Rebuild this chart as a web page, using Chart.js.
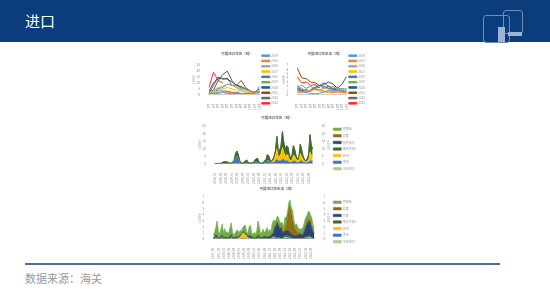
<!DOCTYPE html>
<html>
<head>
<meta charset="utf-8">
<script src="https://cdn.jsdelivr.net/npm/chart.js@4.4.1/dist/chart.umd.min.js"></script>
<style>
body { margin:0; width:550px; height:295px; background:#fff; position:relative; overflow:hidden; font-family:"Noto Sans CJK SC", sans-serif; }
.header { position:absolute; left:0; top:0; width:550px; height:42px; background:#0b3c7c; }
.header h1 { position:absolute; left:25px; top:10px; margin:0; font-size:15px; font-weight:normal; color:#fff; }
.logo1 { position:absolute; left:483px; top:15px; width:25px; height:26px; border:1px solid #6f8dba; border-radius:3px; }
.logo2 { position:absolute; left:503px; top:10px; width:18px; height:22px; border:1px solid #6f8dba; border-radius:3px; }
.logo3 { position:absolute; left:498px; top:27px; width:7px; height:15px; background:#9cb2d6; }
.logo4 { position:absolute; left:508px; top:32px; width:14px; height:4px; background:#9cb2d6; }
.box { position:absolute; }
.rule { position:absolute; left:25px; top:263px; width:475px; height:2px; background:#4a6e9e; }
.src { position:absolute; left:25px; top:270px; font-size:11px; color:#9a9a9a; }
</style>
</head>
<body>
<div class="header"><h1>进口</h1>
  <div class="logo1"></div><div class="logo2"></div><div class="logo3"></div><div class="logo4"></div>
</div>
<div class="box" style="left:190px;top:48px;width:92px;height:64px"><canvas id="nutChart"></canvas></div>
<div class="box" style="left:280px;top:48px;width:88px;height:64px"><canvas id="oilChart"></canvas></div>
<div class="box" style="left:196px;top:113px;width:160px;height:72px"><canvas id="originChart"></canvas></div>
<div class="box" style="left:196px;top:184px;width:160px;height:76px"><canvas id="oilOriginChart"></canvas></div>
<div class="rule"></div>
<div class="src">数据来源：海关</div>

<script>
// months and years
const months = ['1月','2月','3月','4月','5月','6月','7月','8月','9月','10月','11月','12月'];
const years = ['2014','2015','2016','2017','2018','2019','2020','2021','2022','2023'];
const yearColors = ['#5b9bd5','#ed7d31','#a5a5a5','#ffc000','#4472c4','#70ad47','#255e91','#9e480e','#636363','#ff2b2b'];

// peanut imports by year (x1000 t)
const nut2014 = [1,1,2,2,1,1,1,1,1,1,1,7];
const nut2015 = [1,1,1,2,2,2,1,1,1,1,2,3];
const nut2016 = [2,3,6,7,9,8,7,5,4,3,2,2];
const nut2017 = [1,2,3,5,6,5,4,3,2,2,1,1];
const nut2018 = [1,2,4,3,3,2,2,1,1,1,1,3];
const nut2019 = [2,4,5,6,9,8,6,4,2,2,1,2];
const nut2020 = [3,10,14,14,13,11,8,7,5,3,2,5];
const nut2021 = [2,4,12,17,20,12,8,12,6,3,2,3];
const nut2022 = [1,8,15,13,14,8,8,6,4,3,2,2];
const nut2023 = [6,19,12,10,null,null,null,null,null,null,null,null];

// peanut oil imports by year (x1000 t)
const oil2014 = [1.2,0.8,0.5,0.3,0.2,0.4,0.6,1.0,0.8,1.2,0.9,0.7];
const oil2015 = [0.5,0.6,0.8,1.0,1.3,1.2,0.9,0.7,0.5,0.6,0.5,0.4];
const oil2016 = [2.2,1.5,1.0,0.8,1.5,2.0,1.8,1.2,1.0,0.8,1.5,1.2];
const oil2017 = [0.8,0.6,0.7,1.0,1.2,0.9,0.6,0.5,0.7,0.8,0.6,0.5];
const oil2018 = [1.0,0.8,0.5,1.2,1.8,2.2,2.0,1.5,1.2,1.8,1.0,0.6];
const oil2019 = [1.8,2.2,1.5,2.0,1.2,1.0,1.8,1.5,2.0,1.2,1.0,1.5];
const oil2020 = [1.5,1.0,1.2,0.8,1.5,1.8,2.5,3.0,2.5,1.5,2.5,4.3];
const oil2021 = [6.3,4.0,3.8,3.0,2.8,2.2,1.5,2.0,1.2,1.0,0.8,0.5];
const oil2022 = [1.8,1.2,0.6,1.0,1.6,2.2,2.8,2.0,1.5,1.0,1.5,1.0];
const oil2023 = [4.2,2.8,3.0,2.2,2.4,1.6,null,null,null,null,null,null];

// peanut imports by origin, monthly 2018/01 - 2023/12 (x1000 t)
const midArgentina = [0,0,0,0,0,0,0,0,0,0, 0,0,0,0,0,0,0,0,0,0, 0,0,0,0,0,0,0,0,0,0, 0,0,0,0,0,0,0,0,0,0, 0,0,0,0,0,0.3,0,0,0,0.3, 0,0,0.2,0,0,0,0,0.2,0,0, 0,0,0.2,0,0,0,0,0,0,0.4, 0.2,0];
const midIndia = [0,0,0,0,0,0,0,0,0,0, 0,0,0,0,0,0,0,0,0,0, 0,0,0,0,0,0,0,0,0,0, 0,0,0,0,0,0,0,0,0,0, 0,0,0,0,0,0.2,0,0,0,0.2, 0,0,0,0,0,0,0,0,0,0, 0,0,0,0,0,0,0,0,0,0, 0,0];
const midSenegal = [0,0,0,0,0,0,0,0,0,0, 0,0,0,0,0,0,0,0,0,0, 0,0,0,0,0,0,0,0,0,0, 0,0,0,0,0,0,0,0,0,0, 0,0,0,0,0,0,0,0,0,0.2, 0,0,0,0,0,0,0,0,0,0, 0,0,0,0,0,0,0,0,0,0.2, 0,0];
const midSAfrica = [0.2,0.2,0.3,0.2,0.3,0.5,1.2,1.5,1.4,1.2, 0.6,0.5,0.4,0.8,1.5,3,3.5,3,1,0.5, 0.4,0.5,1.5,2,0.8,0.5,0.4,0.5,0.6,1.5, 2,2.5,0.7,0.4,0.4,0.5,1,1.5,4,3, 1.5,0.7,1,2,3,8,3,4,5,10, 6,4,6,5,3,1.5,3,6,4,2, 1,2,6,4,2,1,1,1.5,3,11, 6,5];
const midSudan = [0,0,0,0,0,0,0,0,0,0, 0,0,0,0,0,0,0,0,0,0, 0,0,0,0,0,0,0,0,0,0, 0,0,0,0,0,0,0,0,0,0.3, 0.3,0.3,1,2,4,7,3,3,5,8, 5,3,4,4,2,1,2,4,3,2, 1,2,5,3,2,1,0.5,1,2,6, 4,3];
const midUSA = [0,0,0,0,0,0,0,0,0,0, 0,0,0,0.3,1,4,5,3,1,0.2, 0.1,0.1,0.5,0.5,0.3,0.1,0.1,0.1,0.2,1, 1.5,1,0.3,0.1,0.1,0.1,1,1,2,2, 1,0.5,1,1,2,3,2,2,2,3, 3,2,2,2,1,1,1,2,2,1, 1,1,2,2,1,1,0.5,1,1,2, 2,2];
const midTotal = [0.2,0.2,0.3,0.2,0.3,0.5,1.2,1.5,1.4,1.2, 0.6,0.5,0.4,1.1,2.5,7,8.5,6,2,0.7, 0.5,0.6,2,2.5,1.1,0.6,0.5,0.6,0.8,2.5, 3.5,3.5,1,0.5,0.5,0.6,2,2.5,6,5.3, 2.8,1.5,3,5,9,18.5,8,9,12,21.7, 14,9,12.2,11,6,3.5,6,12.2,9,5, 3,5,13.2,9,5,3,2,3.5,6,19.6, 12.2,10];

// peanut oil imports by origin, monthly 2017/05 - 2023/12 (x1000 t)
const botArgentina = [0.5,0.8,1.2,2.5,1.0,0.6,1.2,1.8,0.8,1.5, 0.7,1.0,0.6,1.4,1.8,0.9,0.5,0.7,1.0,1.2, 0.6,0.9,0.5,0.8,1.0,1.3,0.6,0.5,1.4,1.6, 0.7,0.5,0.9,0.6,1.0,2.2,1.4,0.7,0.9,1.3, 0.6,1.0,1.5,0.8,1.2,0.6,1.6,2.0,1.0,0.5, 0.8,1.2,0.7,0.6,1.2,0.7,1.8,1.3,0.6,0.8, 1.0,0.9,1.5,0.7,0.6,1.1,0.9,0.7,0.5,0.8, 0.9,1.0,1.2,0.8,1.3,1.2,0.9,1.5,0.7,1.0];
const botIndia = [0,0,0,0.1,0,0,0,0.1,0,0, 0,0,0,0.1,0.2,0,0,0,0,0, 0,0,0,0,0,0,0,0,0.1,0.2, 0,0,0,0,0,0.2,0.1,0,0,0, 0,0,0.1,0,0,0,0.1,0.2,0.2,0.3, 0.3,0.2,0.3,0.2,0.3,0.3,0.5,1.0,2.5,4.0, 4.5,3.5,2.5,1.8,1.2,0.8,0.5,0.3,0.2,0.2, 0.3,0.4,0.5,0.6,0.5,0.4,0.5,0.3,0.3,0.2];
const botBrazil = [0.1,0.2,0.3,0.2,0.1,0.1,0.2,0.3,0.1,0.1, 0.2,0.1,0.1,0.2,0.3,0.1,0.1,0.1,0.2,0.1, 0.1,0.1,0.1,0.1,0.1,0.2,0.1,0.1,0.2,0.3, 0.2,0.1,0.1,0.1,0.2,0.3,0.2,0.1,0.1,0.2, 0.3,0.2,0.1,0.2,0.3,0.4,0.4,0.5,1.5,2.0, 2.5,2.0,1.5,1.8,1.0,0.8,0.8,0.8,0.8,0.8, 0.6,0.5,0.5,0.4,0.4,0.5,0.5,0.6,0.8,0.6, 0.5,1.0,1.5,2.0,2.3,2.5,2.2,1.5,1.0,0.8];
const botSAfrica = [0.1,0.1,0.2,0.2,0.1,0.1,0.1,0.2,0.1,0.1, 0.1,0.1,0.1,0.2,0.2,0.1,0.1,0.1,0.1,0.1, 0.1,0.1,0.1,0.1,0.1,0.1,0.1,0.1,0.2,0.2, 0.1,0.1,0.1,0.1,0.1,0.2,0.2,0.1,0.1,0.1, 0.1,0.1,0.2,0.1,0.1,0.1,0.2,0.2,0.2,0.1, 0.1,0.1,0.1,0.1,0.2,0.1,0.2,0.2,0.3,0.3, 0.3,0.2,0.2,0.1,0.1,0.1,0.1,0.1,0.1,0.1, 0.1,0.1,0.2,0.2,0.2,0.2,0.2,0.1,0.1,0.1];
const botSudan = [0,0,0.1,0,0,0,0.1,0,0,0, 0,0,0,0,0.1,0,0,0,0,0.1, 0.2,0.3,0.6,0.8,0.9,0.7,0.4,0.2,0.1,0, 0,0,0,0,0,0,0,0,0,0, 0,0,0,0,0,0,0.1,0.1,0.1,0, 0,0,0,0,0,0.1,0.2,0.2,0.1,0.1, 0,0,0,0,0,0,0,0,0,0, 0,0,0,0.1,0.1,0.2,0.1,0.1,0,0];
const botUSA = [0,0,0.1,0,0,0,0,0.1,0,0, 0,0,0,0,0.1,0,0,0,0,0, 0,0,0,0.1,0.1,0,0,0,0,0, 0,0,0,0,0,0.1,0,0,0,0, 0,0,0,0,0,0,0.1,0.1,0.1,0.1, 0.1,0.1,0.1,0,0,0,0.1,0.1,0.1,0.1, 0.1,0.1,0,0,0,0,0,0,0,0, 0,0.1,0.1,0.1,0.1,0.1,0.1,0,0,0];
const botTotal = [0.7,1.1,1.9,3.0,1.2,0.8,1.6,2.5,1.0,1.7, 1.0,1.2,0.8,1.9,2.7,1.1,0.7,0.9,1.3,1.5, 1.0,1.4,1.3,1.9,2.2,2.3,1.2,0.9,2.0,2.3, 1.0,0.7,1.1,0.8,1.3,3.0,1.9,0.9,1.1,1.6, 1.0,1.3,1.9,1.1,1.6,1.1,2.5,3.1,3.1,3.0, 3.8,3.6,2.7,2.7,2.7,2.0,3.6,3.6,4.4,6.1, 6.5,5.2,4.7,3.0,2.3,2.5,2.0,1.7,1.6,1.7, 1.8,2.6,3.5,3.8,4.5,4.6,4.0,3.5,2.1,2.1];

function monthLabels(y, m, n) {
    const out = [];
    for (let i = 0; i < n; i++) {
        out.push(y + '/' + String(m).padStart(2, '0'));
        m++;
        if (m > 12) { m = 1; y++; }
    }
    return out;
}
const midLabels = monthLabels(2018, 1, 72);
const botLabels = monthLabels(2017, 5, 80);

Chart.defaults.font.family = 'Noto Sans CJK SC';
Chart.defaults.color = '#8a8a8a';
Chart.defaults.animation = false;

const tiny = { size: 3 };

function yearChart(id, title, series, max, step) {
    new Chart(document.getElementById(id), {
        type: 'line',
        data: {
            labels: months,
            datasets: series.map((d, i) => ({
                label: years[i],
                data: d,
                borderColor: yearColors[i],
                backgroundColor: yearColors[i],
                borderWidth: 1,
                pointRadius: 0
            }))
        },
        options: {
            responsive: true,
            maintainAspectRatio: false,
            layout: { padding: { left: 2, right: 0, top: 0, bottom: 1 } },
            plugins: {
                title: { display: true, text: title, font: { size: 3.5 }, color: '#777', padding: { top: 4, bottom: 9 } },
                legend: {
                    position: 'right',
                    labels: { font: tiny, boxWidth: 8, boxHeight: 1.5, padding: 2.3, color: '#999' }
                }
            },
            scales: {
                x: {
                    grid: { display: false },
                    border: { color: '#ccc' },
                    ticks: { font: tiny, autoSkip: false, maxRotation: 90, minRotation: 90, padding: 1 }
                },
                y: {
                    min: 0, max: max,
                    grid: { display: false },
                    border: { display: false },
                    title: { display: true, text: 'x 1000', font: tiny, padding: 0 },
                    ticks: { font: tiny, stepSize: step, autoSkip: false, padding: 1 }
                }
            }
        }
    });
}

yearChart('nutChart', '中国进口花生（吨）',
    [nut2014, nut2015, nut2016, nut2017, nut2018, nut2019, nut2020, nut2021, nut2022, nut2023], 25, 5);
yearChart('oilChart', '中国进口花生油（吨）',
    [oil2014, oil2015, oil2016, oil2017, oil2018, oil2019, oil2020, oil2021, oil2022, oil2023], 7, 1);

const originColors = ['#4472c4', '#ffc000', '#3f6b2a', '#264478', '#8f6f12', '#70ad47'];

function originChart(id, title, names, series, total, labels, max, step) {
    const datasets = series.map((d, i) => ({
        label: names[i],
        data: d,
        backgroundColor: originColors[i],
        borderColor: originColors[i],
        borderWidth: 0.5,
        pointRadius: 0,
        fill: i === 0 ? 'origin' : '-1',
        stack: 'area'
    }));
    datasets.push({
        label: '中国进口',
        data: total,
        borderColor: '#a9d18e',
        backgroundColor: '#a9d18e',
        borderWidth: 0.6,
        pointRadius: 0,
        fill: false,
        stack: 'total'
    });
    new Chart(document.getElementById(id), {
        type: 'line',
        data: { labels: labels, datasets: datasets },
        options: {
            responsive: true,
            maintainAspectRatio: false,
            layout: { padding: { left: 2, right: 0, top: 0, bottom: 0 } },
            plugins: {
                title: { display: true, text: title, font: { size: 3.5 }, color: '#777', padding: { top: 3, bottom: 6 } },
                legend: {
                    position: 'right',
                    labels: {
                        font: tiny, boxWidth: 8, boxHeight: 2.5, padding: 3.6, color: '#999',
                        sort: (a, b) => {
                            const r = it => it.datasetIndex === 6 ? 99 : 5 - it.datasetIndex;
                            return r(a) - r(b);
                        }
                    }
                }
            },
            scales: {
                x: {
                    grid: { display: false },
                    border: { color: '#ccc' },
                    ticks: { font: tiny, maxRotation: 90, minRotation: 90, padding: 1, autoSkip: true, autoSkipPadding: 1 }
                },
                y: {
                    stacked: true,
                    min: 0, max: max,
                    grid: { display: false },
                    border: { display: false },
                    title: { display: true, text: 'x 1000', font: tiny, padding: 0 },
                    ticks: { font: tiny, stepSize: step, autoSkip: false, padding: 1 }
                },
                y2: {
                    position: 'right',
                    min: 0, max: max,
                    grid: { display: false },
                    border: { display: false },
                    title: { display: true, text: 'x 1000', font: tiny, padding: 0 },
                    ticks: { font: tiny, stepSize: step, autoSkip: false, padding: 1 }
                }
            }
        }
    });
}

originChart('originChart', '中国进口花生（吨）', ['美国', '苏丹', '南非共和国', '塞内加尔', '印度', '阿根廷'],
    [midUSA, midSudan, midSAfrica, midSenegal, midIndia, midArgentina], midTotal, midLabels, 25, 5);
originChart('oilOriginChart', '中国进口花生油（吨）', ['美国', '苏丹', '南非共和国', '巴西', '印度', '阿根廷'],
    [botUSA, botSudan, botSAfrica, botBrazil, botIndia, botArgentina], botTotal, botLabels, 7, 1);
</script>
</body>
</html>
